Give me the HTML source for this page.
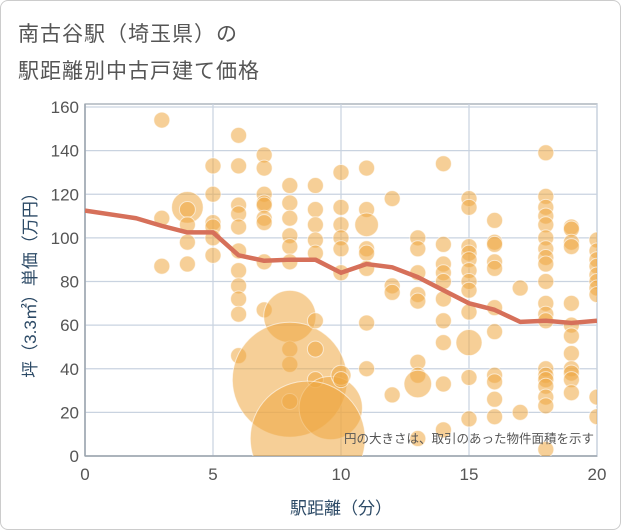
<!DOCTYPE html>
<html><head><meta charset="utf-8">
<style>
html,body{margin:0;padding:0;background:#fff;}
#wrap{position:relative;width:621px;height:530px;overflow:hidden;font-family:"Liberation Sans","Noto Sans CJK JP",sans-serif;}
#frame{position:absolute;left:0;top:0;width:619px;height:528px;border:1px solid #ccc;border-radius:8px;}
.title{position:absolute;left:18px;font-size:21px;color:#555;letter-spacing:1px;}
</style></head>
<body>
<div id="wrap">
<div id="frame"></div>
<div class="title" style="top:18px">南古谷駅（埼玉県）の</div>
<div class="title" style="top:55px">駅距離別中古戸建て価格</div>
<svg id="chart" width="621" height="530" style="position:absolute;left:0;top:0"></svg>
</div>
<script>
const bubbleX = [3,3,3,4,4,4,4,4,5,5,5,5,5,5,6,6,6,6,6,6,6,6,6,6,6,7,7,7,7,7,7,7,7,7,8,8,8,8,8,8,8,8,8,8,8,9,9,9,9,9,9,9,9,9.6,8.7,10,10,10,10,10,10,10,10,11,11,11,11,11,11,11,11,12,12,12,12,13,13,13,13,13,13,13,13,13,14,14,14,14,14,14,14,14,14,14,15,15,15,15,15,15,15,15,15,15,15,15,16,16,16,16,16,16,16,16,16,16,16,17,17,18,18,18,18,18,18,18,18,18,18,18,18,18,18,18,18,18,18,18,18,19,19,19,19,19,19,19,19,19,19,19,19,20,20,20,20,20,20,20,20,20,20];
const bubbleY = [154,109,87,114,113,106,98,88,133,120,107,105,100,92,147,133,115,111,105,94,85,78,72,65,46,138,132,120,116,115,109,107,89,67,124,116,109,101,96,89,64,49,42,35,25,124,113,106,99,93,62,49,35,22,8,130,114,106,100,95,84,37,35,132,113,106,95,93,86,61,40,118,78,75,28,100,95,84,74,71,43,37,33,8,134,97,88,84,80,72,62,52,33,12,118,114,96,93,90,85,80,76,66,52,36,17,108,98,97,89,86,68,57,37,34,26,18,77,20,139,119,114,110,106,100,95,91,88,80,70,65,62,40,37,35,32,27,23,3,105,104,98,96,70,60,55,47,40,38,35,29,99,94,90,87,83,80,77,74,27,18];
const bubbleArea = {3:250,40:680,54:3300,53:1000,43:3300,65:140,61:100,82:190,103:170};
const lineX = [0,2,3,4,5,6,7,8,9,10,11,12,13,14,15,16,17,18,19,20];
const lineY = [112.5,109,105.5,102.5,102.5,92,89.5,90,90,84,88,86.5,82,76,70,67,61.5,62,61,62];
const xTicks = [0,5,10,15,20];
const yTicks = [0,20,40,60,80,100,120,140,160];

const svg = document.getElementById('chart');
const NS = 'http://www.w3.org/2000/svg';
const X0=85,X1=597,Y0=456,Y1=107;
const xs = v => X0 + (v/20)*(X1-X0);
const ys = v => Y0 - (v/160)*(Y0-Y1);
function mk(tag, attrs){const e=document.createElementNS(NS,tag);for(const k in attrs)e.setAttribute(k,attrs[k]);svg.appendChild(e);return e;}

mk('rect',{x:X0,y:Y1-3,width:X1-X0,height:Y0-Y1+3,fill:'#fff',stroke:'#9aa3ad','stroke-width':1.2});
yTicks.forEach(t=>{
  const g=mk('line',{x1:X0,x2:X1,y1:ys(t),y2:ys(t),stroke:'#c9d3e0','stroke-width':1.2});
  
  
  const l=mk('text',{x:X0-6,y:ys(t)+6,'text-anchor':'end','font-size':17,fill:'#555'});
  l.textContent=t;
  
  
});
xTicks.forEach(t=>{
  const g=mk('line',{x1:xs(t),x2:xs(t),y1:Y1-3,y2:Y0,stroke:'#c9d3e0','stroke-width':1.2});
  
  
  const l=mk('text',{x:xs(t),y:Y0+24,'text-anchor':'middle','font-size':17,fill:'#555'});
  l.textContent=t;
  
  
});
mk('line',{x1:X0,x2:X1,y1:Y0,y2:Y0,stroke:'#9aa3ad','stroke-width':1.5});
mk('line',{x1:X0,x2:X0,y1:Y1-3,y2:Y0,stroke:'#9aa3ad','stroke-width':1.5});

const clip=mk('clipPath',{id:'pc'});
const cr=document.createElementNS(NS,'rect');
cr.setAttribute('x',X0);cr.setAttribute('y',Y1-3);cr.setAttribute('width',X1-X0);cr.setAttribute('height',Y0-Y1+3);
clip.appendChild(cr);
const gB=mk('g',{'clip-path':'url(#pc)'});
bubbleX.forEach((x,i)=>{
  const a=bubbleArea[i]||64;
  const r=Math.sqrt(a);
  const c=document.createElementNS(NS,'circle');
  c.setAttribute('cx',xs(x));c.setAttribute('cy',ys(bubbleY[i]));c.setAttribute('r',r);
  c.setAttribute('fill','rgba(238,168,66,0.55)');c.setAttribute('stroke','rgba(255,255,255,0.6)');c.setAttribute('stroke-width',1);
  
  
  gB.appendChild(c);
});
const pts=lineX.map((x,i)=>xs(x)+','+ys(lineY[i])).join(' ');
const pl=mk('polyline',{points:pts,fill:'none',stroke:'#d6705a','stroke-width':4.5,'stroke-linejoin':'round','clip-path':'url(#pc)'});



const note=mk('text',{x:594,y:443,'text-anchor':'end','font-size':12.5,fill:'#555'});
note.textContent='円の大きさは、取引のあった物件面積を示す';


const xt=mk('text',{x:341,y:514,'text-anchor':'middle','font-size':17,fill:'#2c4a66'});
xt.textContent='駅距離（分）';


const yt=mk('text',{x:0,y:0,'text-anchor':'middle','font-size':17,fill:'#2c4a66',transform:'translate(36,281) rotate(-90)'});
yt.textContent='坪（3.3㎡）単価（万円）';


</script>
</body></html>
